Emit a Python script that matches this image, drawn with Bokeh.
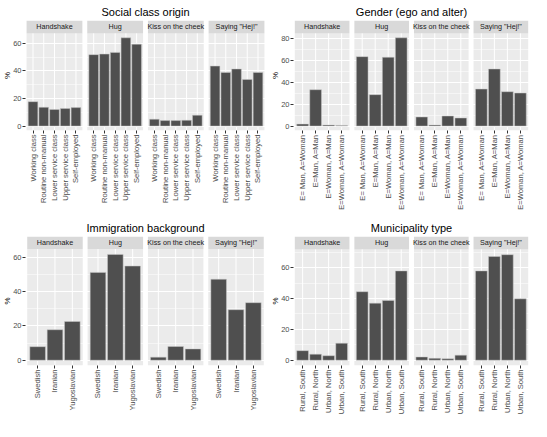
import math
from bokeh.plotting import figure
from bokeh.models import FactorRange, Range1d, FixedTicker
from bokeh.layouts import row, column
from bokeh.embed import file_html
from bokeh.resources import INLINE
from bokeh.core.properties import value

# ---------------- data ----------------
activities = ["Handshake", "Hug", "Kiss on the cheek", 'Saying "Hej!"']

class_categories = ["Working class", "Routine non-manual", "Lower service class",
                    "Upper service class", "Self-employed"]
class_handshake = [17.7, 13.6, 12.0, 12.7, 13.4]
class_hug = [51.8, 52.2, 53.4, 64.0, 59.4]
class_kiss = [5.0, 4.0, 4.0, 4.2, 7.9]
class_hej = [43.5, 38.9, 41.4, 33.8, 38.9]
class_ticks = [0, 20, 40, 60]

gender_categories = ["E= Man, A=Woman", "E=Man, A=Man", "E=Woman, A=Man", "E=Woman, A=Woman"]
gender_handshake = [1.8, 33.2, 0.9, 0.6]
gender_hug = [63.4, 28.7, 62.8, 80.6]
gender_kiss = [8.3, 0.9, 9.2, 7.4]
gender_hej = [33.8, 52.1, 31.4, 30.2]
gender_ticks = [0, 20, 40, 60, 80]

immig_categories = ["Swedish", "Iranian", "Yugoslavian"]
immig_handshake = [7.9, 17.8, 22.6]
immig_hug = [51.3, 61.8, 55.0]
immig_kiss = [1.8, 8.0, 6.6]
immig_hej = [47.3, 29.5, 33.6]
immig_ticks = [0, 20, 40, 60]

muni_categories = ["Rural, South", "Rural, North", "Urban, North", "Urban, South"]
muni_handshake = [6.2, 3.9, 2.9, 11.0]
muni_hug = [44.4, 37.0, 38.7, 57.9]
muni_kiss = [2.1, 1.2, 1.0, 3.3]
muni_hej = [57.9, 67.2, 68.4, 39.8]
muni_ticks = [0, 20, 40, 60]

# ---------------- style ----------------
FONT = "Liberation Sans"
PANEL_BG = "#EBEBEB"
STRIP_BG = "#D9D9D9"
BAR_FILL = "#4f4f4f"
BAR_LINE = "#c8c8c8"
TICK_COL = "#333333"
LABEL_COL = "#4D4D4D"


def facet_panel(title, cats, series, ticks, W, H, mbl, mbr, mbt, mbb,
                strip_px, title_standoff, gap_px=5.0):
    n = len(cats)
    factors = [(a, c) for a in activities for c in cats]
    vals = [v for s in series for v in s]
    frame_w = W - mbl - mbr
    frame_h = H - mbt - mbb
    panel_px = frame_h - strip_px
    vmax = max(vals)
    lo, hi = -0.05 * vmax, 1.05 * vmax
    ppu = panel_px / (hi - lo)
    ytop = hi + strip_px / ppu

    u = (frame_w - 3 * gap_px) / (4 * (n + 0.2))
    gp = gap_px / u + 0.2
    xr = FactorRange(*factors, factor_padding=0.0, group_padding=gp,
                     range_padding=0.2, range_padding_units="absolute")

    p = figure(x_range=xr, y_range=Range1d(lo, ytop), width=W, height=H,
               title=title, output_backend="svg", toolbar_location=None,
               min_border_left=mbl, min_border_right=mbr,
               min_border_top=mbt, min_border_bottom=mbb)
    p.outline_line_color = None
    p.background_fill_color = "white"
    p.border_fill_color = "white"

    p.title.align = "center"
    p.title.text_font = FONT
    p.title.text_font_size = "11px"
    p.title.text_font_style = "normal"
    p.title.text_color = "black"
    p.title.standoff = title_standoff
    p.title.offset = 0

    # panel backgrounds and strips
    p.vbar(x=activities, width=n + 0.2, bottom=lo, top=hi, fill_color=PANEL_BG,
           line_color=None, level="image")
    p.vbar(x=activities, width=n + 0.2, bottom=hi, top=ytop, fill_color=STRIP_BG,
           line_color=None, level="image")
    p.text(x=activities, y=[(hi + ytop) / 2] * 4, text=activities,
           text_align="center", text_baseline="middle",
           text_font=value(FONT), text_font_size="7.2px", text_color="#1A1A1A")

    # vertical white grid lines at category centres
    p.segment(x0=factors, y0=[lo] * len(factors), x1=factors, y1=[hi] * len(factors),
              line_color="white", line_width=1.0, level="underlay")

    # bars
    p.vbar(x=factors, top=vals, bottom=0, width=0.9, fill_color=BAR_FILL,
           line_color=BAR_LINE, line_width=0.5)

    minor = [t + 10 for t in ticks if t + 10 < hi]
    tk = FixedTicker(ticks=ticks, minor_ticks=minor)
    p.yaxis.ticker = tk
    p.ygrid.ticker = tk
    p.ygrid.grid_line_color = "white"
    p.ygrid.grid_line_width = 1.0
    p.ygrid.minor_grid_line_color = "white"
    p.ygrid.minor_grid_line_width = 0.5
    p.xgrid.grid_line_color = None

    ya = p.yaxis[0]
    ya.axis_label = "%"
    ya.axis_label_standoff = -2
    ya.axis_label_text_font = FONT
    ya.axis_label_text_font_size = "8px"
    ya.axis_label_text_font_style = "normal"
    ya.axis_label_text_color = "black"
    ya.axis_line_color = None
    ya.major_tick_line_color = TICK_COL
    ya.major_tick_out = 3
    ya.major_tick_in = 0
    ya.minor_tick_out = 0
    ya.minor_tick_in = 0
    ya.major_label_standoff = 1
    ya.major_label_text_font = FONT
    ya.major_label_text_font_size = "7.5px"
    ya.major_label_text_color = LABEL_COL

    xa = p.xaxis[0]
    xa.axis_line_color = None
    xa.major_tick_line_color = TICK_COL
    xa.major_tick_out = 3
    xa.major_tick_in = 0
    xa.major_label_orientation = math.pi / 2
    xa.major_label_standoff = 1
    xa.major_label_text_font = FONT
    xa.major_label_text_font_size = "7.6px"
    xa.major_label_text_color = LABEL_COL
    xa.group_text_font_size = "1px"
    xa.group_text_alpha = 0
    xa.separator_line_color = None
    return p


p1 = facet_panel("Social class origin", class_categories,
                 [class_handshake, class_hug, class_kiss, class_hej], class_ticks,
                 W=268, H=216, mbl=21, mbr=3, mbt=19, mbb=86,
                 strip_px=13, title_standoff=6)
p2 = facet_panel("Gender (ego and alter)", gender_categories,
                 [gender_handshake, gender_hug, gender_kiss, gender_hej], gender_ticks,
                 W=263, H=216, mbl=24, mbr=2, mbt=19, mbb=86,
                 strip_px=13, title_standoff=6)
p3 = facet_panel("Immigration background", immig_categories,
                 [immig_handshake, immig_hug, immig_kiss, immig_hej], immig_ticks,
                 W=268, H=205, mbl=21, mbr=3, mbt=19, mbb=53,
                 strip_px=13, title_standoff=6)
p4 = facet_panel("Municipality type", muni_categories,
                 [muni_handshake, muni_hug, muni_kiss, muni_hej], muni_ticks,
                 W=263, H=205, mbl=24, mbr=2, mbt=19, mbb=56,
                 strip_px=13, title_standoff=6)

layout = column(row(p1, p2), row(p3, p4))

with open("out.html", "w") as f:
    f.write(file_html(layout, INLINE))
